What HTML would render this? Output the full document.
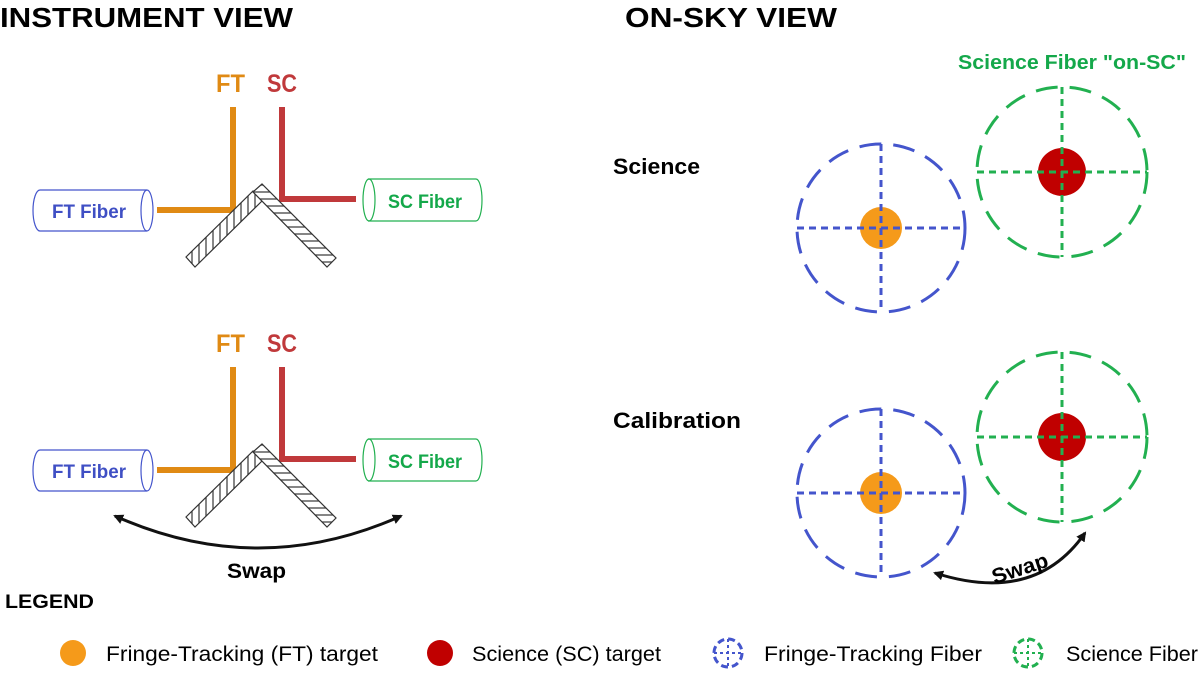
<!DOCTYPE html>
<html><head><meta charset="utf-8"><style>
html,body{margin:0;padding:0;background:#fff;}
svg{display:block;font-family:"Liberation Sans",sans-serif;}
</style></head><body>
<svg width="1200" height="673" viewBox="0 0 1200 673" xmlns="http://www.w3.org/2000/svg">
<defs>
<pattern id="hL" patternUnits="userSpaceOnUse" width="7" height="7">
<rect width="7" height="7" fill="#fff"/><line x1="3" y1="0" x2="3" y2="7" stroke="#444" stroke-width="1.3"/></pattern>
<pattern id="hR" patternUnits="userSpaceOnUse" width="7" height="7">
<rect width="7" height="7" fill="#fff"/><line x1="0" y1="3" x2="7" y2="3" stroke="#444" stroke-width="1.3"/></pattern>
<marker id="ar" markerWidth="10" markerHeight="10" refX="8" refY="5" orient="auto-start-reverse" markerUnits="userSpaceOnUse">
<path d="M0,0 L10,5 L0,10 z" fill="#111"/></marker>
</defs>
<text x="0" y="27" font-size="28" font-weight="bold" textLength="293" lengthAdjust="spacingAndGlyphs">INSTRUMENT VIEW</text>
<text x="625" y="27" font-size="28" font-weight="bold" textLength="212" lengthAdjust="spacingAndGlyphs">ON-SKY VIEW</text>

<g id="inst">
<text x="216" y="92" font-size="25" font-weight="bold" fill="#e08a14" textLength="29" lengthAdjust="spacingAndGlyphs">FT</text>
<text x="267" y="92" font-size="25" font-weight="bold" fill="#c0393b" textLength="30" lengthAdjust="spacingAndGlyphs">SC</text>
<polyline points="233,107 233,210 157,210" fill="none" stroke="#e08a14" stroke-width="6"/>
<polyline points="282,107 282,199 356,199" fill="none" stroke="#c0393b" stroke-width="6"/>
<polygon points="186,257 253,191 262,201 195,267" fill="url(#hL)" stroke="#333" stroke-width="1.2"/>
<polygon points="253,192 262,184 336,258 327,267" fill="url(#hR)" stroke="#333" stroke-width="1.2"/>
<path d="M40,190 H147 M40,231 H147 M40,190 A7,20.5 0 0 0 40,231" fill="none" stroke="#4455cc" stroke-width="1.2"/>
<ellipse cx="147" cy="210.5" rx="6" ry="20.5" fill="none" stroke="#4455cc" stroke-width="1.2"/>
<text x="52" y="218" font-size="19" font-weight="bold" fill="#3f4fc4" textLength="74" lengthAdjust="spacingAndGlyphs">FT Fiber</text>
<path d="M368,179 H476 M368,221 H476 M476,179 A6,21 0 0 1 476,221" fill="none" stroke="#22b050" stroke-width="1.2"/>
<ellipse cx="369" cy="200" rx="6" ry="21" fill="none" stroke="#22b050" stroke-width="1.2"/>
<text x="388" y="208" font-size="19" font-weight="bold" fill="#14a84a" textLength="74" lengthAdjust="spacingAndGlyphs">SC Fiber</text>
</g>
<use href="#inst" y="260"/>

<path d="M115,516 Q258,580 401,516" fill="none" stroke="#111" stroke-width="3" marker-start="url(#ar)" marker-end="url(#ar)"/>
<text x="227" y="578" font-size="21" font-weight="bold" textLength="59" lengthAdjust="spacingAndGlyphs">Swap</text>

<text x="613" y="174" font-size="22" font-weight="bold" textLength="87" lengthAdjust="spacingAndGlyphs">Science</text>
<text x="613" y="428" font-size="22" font-weight="bold" textLength="128" lengthAdjust="spacingAndGlyphs">Calibration</text>
<text x="958" y="69" font-size="20" font-weight="bold" fill="#14a84a" textLength="228" lengthAdjust="spacingAndGlyphs">Science Fiber "on-SC"</text>

<g id="pair">
<circle cx="881" cy="228" r="21" fill="#f59a1a"/>
<circle cx="881" cy="228" r="84" fill="none" stroke="#4455cc" stroke-width="3" stroke-dasharray="22,12"/>
<path d="M881,144 V312 M797,228 H965" stroke="#4455cc" stroke-width="3" stroke-dasharray="7,5"/>
<circle cx="1062" cy="172" r="24" fill="#c00000"/>
<circle cx="1062" cy="172" r="85" fill="none" stroke="#22b050" stroke-width="3" stroke-dasharray="22,12"/>
<path d="M1062,87 V257 M977,172 H1147" stroke="#22b050" stroke-width="3" stroke-dasharray="7,5"/>
</g>
<use href="#pair" y="265"/>
<path d="M935,573 Q1035,605 1085,533" fill="none" stroke="#111" stroke-width="3" marker-start="url(#ar)" marker-end="url(#ar)"/>
<text x="990" y="576" font-size="21" font-weight="bold" transform="rotate(-18 1018 566)" textLength="58" lengthAdjust="spacingAndGlyphs">Swap</text>

<text x="5" y="608" font-size="19" font-weight="bold" textLength="89" lengthAdjust="spacingAndGlyphs">LEGEND</text>
<circle cx="73" cy="653" r="13" fill="#f59a1a"/>
<text x="106" y="661" font-size="21" textLength="272" lengthAdjust="spacingAndGlyphs">Fringe-Tracking (FT) target</text>
<circle cx="440" cy="653" r="13" fill="#c00000"/>
<text x="472" y="661" font-size="21" textLength="189" lengthAdjust="spacingAndGlyphs">Science (SC) target</text>
<circle cx="728" cy="653" r="14" fill="none" stroke="#4455cc" stroke-width="3" stroke-dasharray="7,4"/>
<path d="M728,639 V667 M714,653 H742" stroke="#4455cc" stroke-width="2" stroke-dasharray="3,3"/>
<text x="764" y="661" font-size="21" textLength="218" lengthAdjust="spacingAndGlyphs">Fringe-Tracking Fiber</text>
<circle cx="1028" cy="653" r="14" fill="none" stroke="#22b050" stroke-width="3" stroke-dasharray="7,4"/>
<path d="M1028,639 V667 M1014,653 H1042" stroke="#22b050" stroke-width="2" stroke-dasharray="3,3"/>
<text x="1066" y="661" font-size="21" textLength="132" lengthAdjust="spacingAndGlyphs">Science Fiber</text>
</svg>
</body></html>
